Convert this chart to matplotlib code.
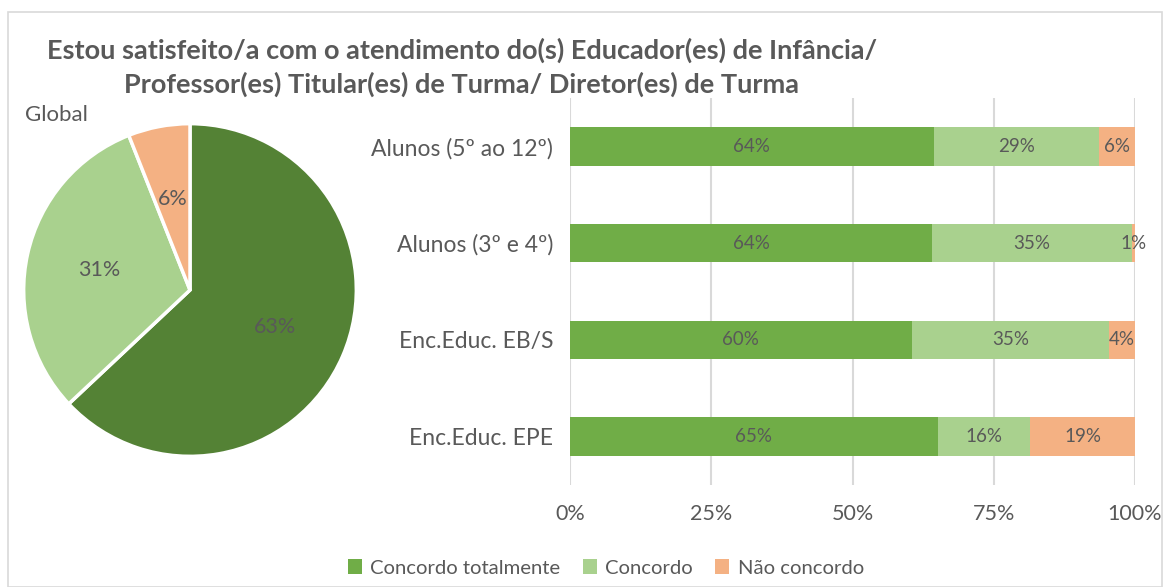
import matplotlib
matplotlib.use("Agg")
import matplotlib.pyplot as plt
from matplotlib.patches import Rectangle, Patch

plt.rcParams['font.family'] = ['Lato', 'DejaVu Sans']

# dados
grupos = ['Alunos (5º ao 12º)', 'Alunos (3º e 4º)', 'Enc.Educ. EB/S', 'Enc.Educ. EPE']
totalmente = [64.4, 64.1, 60.5, 65.1]
concordo = [29.2, 35.4, 34.9, 16.3]
nao_concordo = [6.4, 0.5, 4.6, 18.6]
# rótulos tal como aparecem no gráfico
rot_totalmente = ['64%', '64%', '60%', '65%']
rot_concordo = ['29%', '35%', '35%', '16%']
rot_nao = ['6%', '1%', '4%', '19%']
global_vals = [63, 31, 6]
legenda = ['Concordo totalmente', 'Concordo', 'Não concordo']
xticks = [0, 25, 50, 75, 100]
xtick_labels = ['0%', '25%', '50%', '75%', '100%']

cinza = '#595959'
cores_barras = ['#70AD47', '#A9D18E', '#F4B183']
cores_pie = ['#548235', '#A9D18E', '#F4B183']

fig = plt.figure(figsize=(11.65, 5.87), dpi=100)

# moldura
fig.patches.append(Rectangle((8 / 1165, 0), 1154 / 1165, 1 - 12 / 587,
                             transform=fig.transFigure, fill=False,
                             edgecolor='#D9D9D9', linewidth=1.2))

fig.text(462 / 1165, 1 - 67 / 587,
         'Estou satisfeito/a com o atendimento do(s) Educador(es) de Infância/\n'
         'Professor(es) Titular(es) de Turma/ Diretor(es) de Turma',
         ha='center', va='center', fontsize=19.5, fontweight='bold', color=cinza,
         linespacing=1.42)

fig.text(25 / 1165, 1 - 115 / 587, 'Global', ha='left', va='center',
         fontsize=16, color=cinza)

# --- pie global ---
axp = fig.add_axes([22 / 1165, 129 / 587, 336 / 1165, 336 / 587])
wedges, _, autotexts = axp.pie(global_vals, colors=cores_pie, startangle=90,
                               counterclock=False, autopct='%1.0f%%',
                               pctdistance=0.56,
                               wedgeprops=dict(edgecolor='white', linewidth=2.5),
                               textprops=dict(color=cinza, fontsize=15.5))
axp.set_xlim(-1.01, 1.01)
axp.set_ylim(-1.01, 1.01)
axp.set_aspect('equal')

# --- barras empilhadas ---
ax = fig.add_axes([570 / 1165, 102 / 587, 565 / 1165, 387 / 587])
ypos = list(range(len(grupos)))
esquerda = [0] * len(grupos)
series = [totalmente, concordo, nao_concordo]
rotulos = [rot_totalmente, rot_concordo, rot_nao]
for serie, rots, cor in zip(series, rotulos, cores_barras):
    bars = ax.barh(ypos, serie, left=esquerda, color=cor, height=0.4, zorder=3)
    for b, r in zip(bars, rots):
        ax.text(b.get_x() + b.get_width() / 2, b.get_y() + b.get_height() / 2,
                r, ha='center', va='center',
                fontsize=13.5, color=cinza, zorder=4)
    esquerda = [e + v for e, v in zip(esquerda, serie)]

ax.set_ylim(len(grupos) - 0.5, -0.5)
ax.set_xlim(0, 100)
ax.set_yticks(ypos)
ax.set_yticklabels(grupos, fontsize=16.5, color=cinza)
ax.set_xticks(xticks)
ax.set_xticklabels(xtick_labels, fontsize=15.5, color=cinza)
ax.tick_params(axis='y', length=0, pad=12)
ax.tick_params(axis='x', length=0, pad=14)
ax.grid(axis='x', color='#D9D9D9', linewidth=1.5, zorder=0)
for s in ax.spines.values():
    s.set_visible(False)

handles = [Patch(facecolor=c, edgecolor='none') for c in cores_barras]
fig.legend(handles, legenda, loc='center', bbox_to_anchor=(606 / 1165, 1 - 568 / 587),
           ncol=3, frameon=False, fontsize=14.6, labelcolor=cinza,
           handlelength=0.7, handleheight=0.7, handletextpad=0.4, columnspacing=1.1)

fig.savefig('out.png', dpi=100, facecolor='white')
